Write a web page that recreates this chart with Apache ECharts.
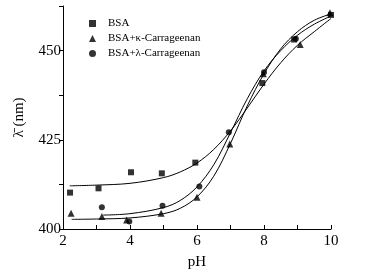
<!DOCTYPE html>
<html>
<head>
<meta charset="utf-8">
<script src="https://cdn.jsdelivr.net/npm/echarts@6/dist/echarts.min.js"></script>
<style>
  html, body { margin: 0; padding: 0; background: #fff; }
  #chart { width: 373px; height: 277px; }
</style>
</head>
<body>
<div id="chart"></div>
<script>
// measured points
const bsaPts = [[2.21, 410.2], [3.06, 411.4], [4.03, 415.9], [4.95, 415.6], [5.95, 418.6], [7.95, 440.9], [8.9, 453.1], [10.0, 460.0]];
const kappaPts = [[2.24, 404.4], [3.16, 403.5], [3.9, 402.5], [4.93, 404.4], [6.0, 408.9], [6.98, 423.8], [7.98, 443.5], [9.08, 451.7], [9.97, 460.6]];
const lambdaPts = [[3.16, 406.1], [3.98, 402.1], [4.97, 406.5], [6.07, 411.9], [6.95, 427.1], [8.0, 443.9], [8.95, 453.3], [10.04, 459.6]];

// fitted curves
const bsaFit = [[2.2, 412.1], [3, 412.3], [4, 412.8], [5, 414.4], [5.5, 416.0], [6, 418.5], [6.5, 422.3], [7, 427.5], [7.5, 433.9], [8, 440.6], [8.5, 446.6], [9, 451.5], [9.5, 455.3], [10, 459.0]];
const kappaFit = [[2.26, 402.7], [3, 402.8], [4, 403.1], [5, 404.3], [5.5, 405.8], [6, 409.0], [6.5, 414.8], [7, 424.0], [7.5, 434.5], [8, 443.5], [8.5, 450.5], [9, 455.3], [9.5, 458.5], [10, 460.3]];
const lambdaFit = [[3.2, 403.9], [4, 404.3], [5, 406.0], [5.5, 408.0], [6, 411.8], [6.5, 418.0], [7, 427.0], [7.5, 436.5], [8, 444.3], [8.5, 450.0], [9, 454.3], [9.5, 457.4], [10, 459.7]];

const names = ['BSA', 'BSA+κ-Carrageenan', 'BSA+λ-Carrageenan'];

const font = 'Liberation Serif';

const chart = echarts.init(document.getElementById('chart'));

function fitLine(data) {
  return {
    type: 'line',
    data: data,
    smooth: 0.35,
    showSymbol: false,
    silent: true,
    lineStyle: { color: '#000', width: 1 },
    z: 1
  };
}

function dots(name, data, symbol, size) {
  return {
    name: name,
    type: 'scatter',
    data: data,
    symbol: symbol,
    symbolSize: size,
    itemStyle: { color: '#000' },
    z: 3
  };
}

chart.setOption({
  animation: false,
  backgroundColor: '#fff',
  grid: { left: 63, right: 42, top: 6, bottom: 48 },
  legend: {
    data: names,
    orient: 'vertical',
    left: 84,
    top: 13,
    itemGap: 4,
    itemWidth: 7,
    itemHeight: 7,
    textStyle: { fontFamily: font, fontSize: 11, color: '#000', padding: [0, 0, 0, 7] }
  },
  xAxis: {
    type: 'value',
    min: 2,
    max: 10,
    interval: 1,
    name: 'pH',
    nameLocation: 'middle',
    nameGap: 26,
    nameTextStyle: { fontFamily: font, fontSize: 15, color: '#000' },
    axisLine: { lineStyle: { color: '#000', width: 1 } },
    axisTick: { inside: true, length: 4, lineStyle: { color: '#000' } },
    axisLabel: {
      fontFamily: font, fontSize: 15, color: '#000', margin: 5,
      formatter: v => (v % 2 === 0 ? String(v) : '')
    },
    splitLine: { show: false }
  },
  yAxis: {
    type: 'value',
    min: 400,
    max: 462.5,
    interval: 12.5,
    name: 'λ̄ (nm)',
    nameLocation: 'middle',
    nameGap: 36,
    nameTextStyle: { fontFamily: font, fontSize: 15, color: '#000' },
    axisLine: { show: true, lineStyle: { color: '#000', width: 1 } },
    axisTick: { show: true, inside: false, length: 4, lineStyle: { color: '#000' } },
    axisLabel: {
      fontFamily: font, fontSize: 15, color: '#000', margin: 2,
      formatter: v => (v % 25 === 0 ? String(v) : '')
    },
    splitLine: { show: false }
  },
  series: [
    fitLine(bsaFit),
    fitLine(kappaFit),
    fitLine(lambdaFit),
    dots(names[0], bsaPts, 'rect', 6),
    dots(names[1], kappaPts, 'triangle', 7),
    dots(names[2], lambdaPts, 'circle', 6)
  ]
});
</script>
</body>
</html>
